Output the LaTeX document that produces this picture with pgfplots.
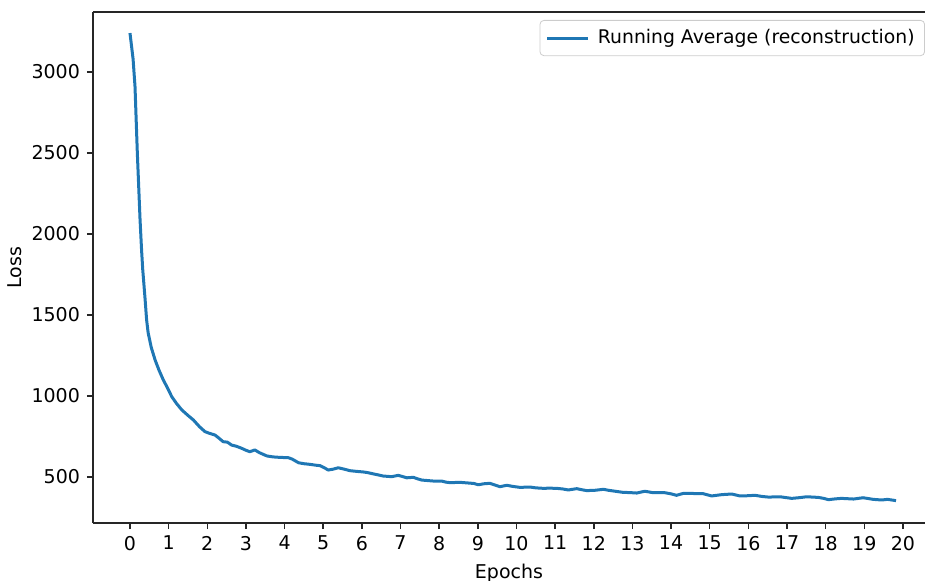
\documentclass[border=0pt]{standalone}
\usepackage{fontspec}
\setmainfont{DejaVu Sans}
\usepackage{pgfplots}
\pgfplotsset{compat=1.18}
\definecolor{mplblue}{HTML}{1F77B4}
\definecolor{spine}{HTML}{262626}
\pgfplotstableread{
x y
0.00 3240
0.08 3080
0.13 2910
0.19 2500
0.26 2090
0.30 1900
0.33 1780
0.39 1600
0.43 1470
0.47 1390
0.55 1300
0.65 1222
0.75 1160
0.86 1100
0.97 1050
1.08 996
1.20 955
1.34 914
1.50 880
1.64 852
1.80 810
1.94 780
2.05 770
2.20 759
2.30 740
2.41 718
2.52 715
2.63 697
2.75 690
2.89 677
3.00 665
3.10 656
3.23 667
3.35 650
3.54 630
3.70 624
3.88 621
4.00 620
4.10 619
4.20 610
4.36 588
4.50 582
4.66 578
4.80 573
4.92 570
5.02 558
5.13 543
5.25 548
5.39 557
5.55 548
5.69 539
5.85 535
6.04 531
6.15 527
6.30 519
6.42 513
6.55 506
6.77 502
6.94 510
7.05 503
7.16 495
7.33 498
7.45 488
7.55 481
7.70 478
7.85 475
8.06 475
8.18 468
8.28 465
8.40 466
8.54 467
8.75 463
8.90 460
9.01 452
9.15 458
9.31 461
9.45 450
9.57 440
9.75 449
9.90 442
10.09 436
10.35 438
10.50 433
10.69 430
10.85 431
11.04 430
11.20 426
11.34 420
11.56 428
11.70 421
11.82 416
12.03 418
12.25 424
12.38 418
12.50 414
12.76 405
12.92 404
13.11 401
13.32 412
13.54 403
13.84 403
14.00 396
14.14 387
14.32 399
14.49 399
14.70 397
14.83 397
15.05 383
15.31 391
15.57 395
15.78 383
15.95 384
16.17 387
16.35 380
16.52 376
16.82 378
16.97 373
17.12 368
17.30 372
17.51 378
17.81 374
17.95 368
18.07 360
18.25 365
18.41 368
18.72 364
18.97 372
19.10 367
19.23 362
19.45 358
19.60 362
19.82 354
}\lossdata
\begin{document}
\begin{tikzpicture}
\begin{axis}[
  scale only axis,
  width=416pt, height=255.5pt,
  xmin=-0.957, xmax=20.57, ymin=216, ymax=3370,
  axis x line*=box, axis y line*=left,
  every outer x axis line/.append style={-},
  every outer y axis line/.append style={-},
  axis line style={line width=0.75pt, spine},
  xtick={0,1,...,20}, ytick={500,1000,...,3000},
  tick pos=left, tick align=outside, major tick length=3pt,
  tick style={line width=0.75pt, spine},
  scaled y ticks=false,
  /pgf/number format/assume math mode=true,
  yticklabel style={/pgf/number format/1000 sep={}},
  tick label style={font=\fontsize{9.5}{11}\selectfont, text=black},
  label style={font=\fontsize{9.5}{11}\selectfont},
  xlabel={Epochs}, ylabel={Loss},
  xlabel style={at={(axis description cs:0.5,-0.066)}, anchor=north},
  ylabel style={at={(axis description cs:-0.09375,0.5)}, anchor=center, rotate=0},
  legend style={at={(axis description cs:1,1)}, anchor=north east,
    xshift=0pt, yshift=-4pt, draw=black!20, rounded corners=2pt,
    fill=white, font=\fontsize{9.4}{11}\selectfont, inner xsep=3pt, inner ysep=2.5pt,
    /tikz/column sep=2pt},
  legend cell align=left,
  legend image code/.code={\draw[#1] (0pt,0pt) -- (20.5pt,0pt);},
]
\addplot[mplblue, line width=1.5pt, line join=round] table[x=x, y=y] {\lossdata};
\addlegendentry{Running Average (reconstruction)}
\end{axis}
\pgfresetboundingbox
\path[use as bounding box] ([xshift=-46.5pt,yshift=-28.5pt]current axis.south west) rectangle ([yshift=6pt]current axis.north east);
\end{tikzpicture}
\end{document}
